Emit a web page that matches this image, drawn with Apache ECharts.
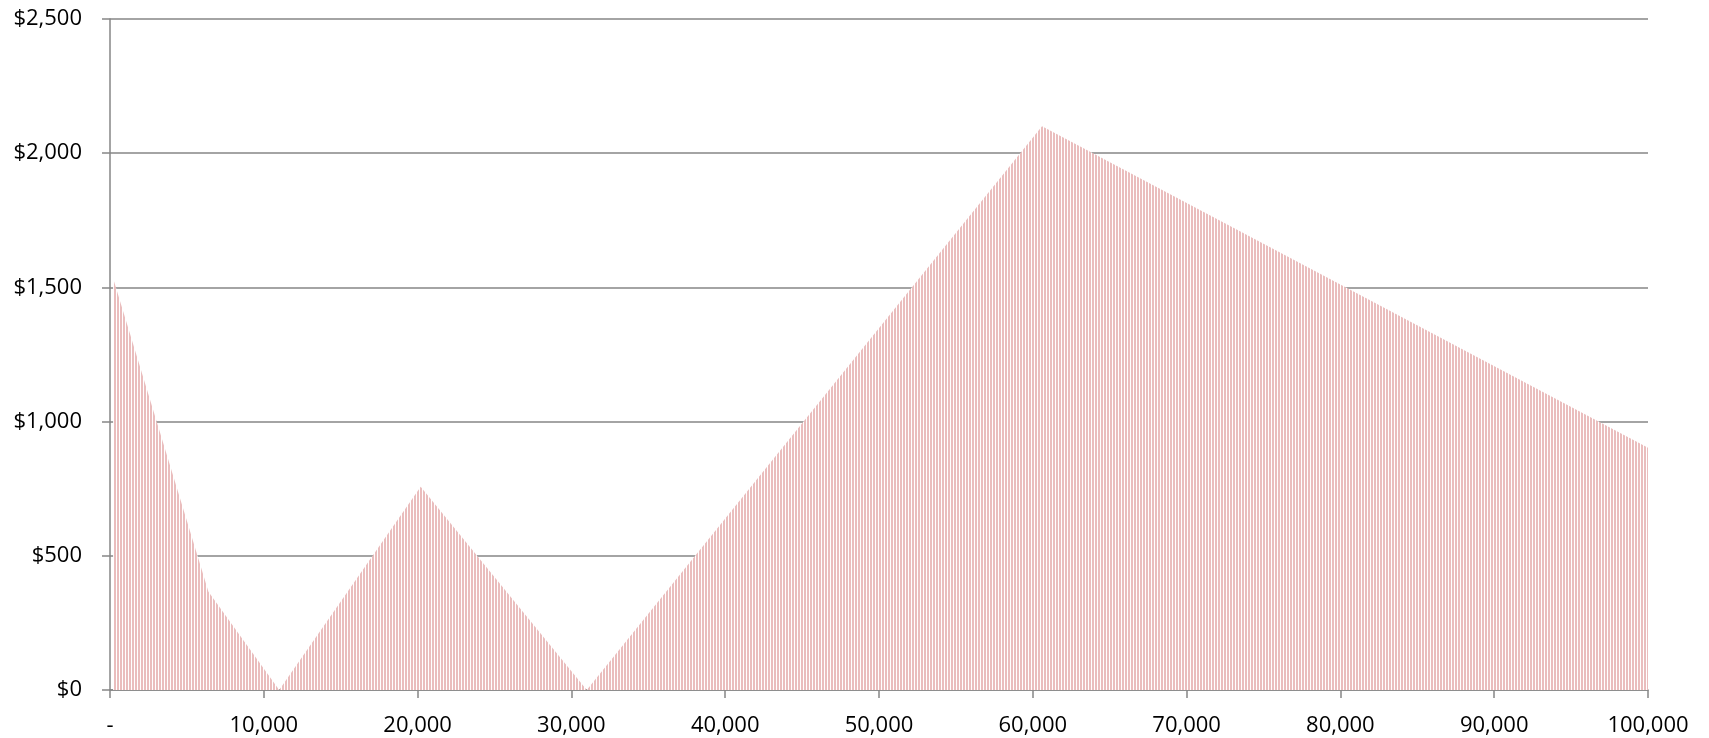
<!DOCTYPE html>
<html>
<head>
<meta charset="utf-8">
<script src="https://cdn.jsdelivr.net/npm/echarts@6/dist/echarts.min.js"></script>
<style>
html,body{margin:0;padding:0;background:#fff;}
#c{width:1709px;height:738px;}
</style>
</head>
<body>
<div id="c"></div>
<script>
// Breakpoints (income, amount in $)
var incomes = [200, 6400, 11000, 20200, 31000, 60600, 100000];
var amounts = [1534, 366, 0, 757, 0, 2100, 903];
var yTicks = [0, 500, 1000, 1500, 2000, 2500];
var xTicks = [0, 10000, 20000, 30000, 40000, 50000, 60000, 70000, 80000, 90000, 100000];

// vertical stripe fill (thin column look)
var pc = document.createElement('canvas');
pc.width = 3; pc.height = 4;
var pctx = pc.getContext('2d');
pctx.fillStyle = '#ffffff';
pctx.fillRect(0, 0, 3, 4);
pctx.fillStyle = '#eabdbd';
pctx.fillRect(0, 0, 2, 4);

var seriesData = incomes.map(function (x, i) { return [x, amounts[i]]; });

function fmtNum(v) {
  return String(v).replace(/\B(?=(\d{3})+(?!\d))/g, ',');
}

var chart = echarts.init(document.getElementById('c'), null, {renderer: 'canvas'});
chart.setOption({
  animation: false,
  backgroundColor: '#ffffff',
  grid: {left: 110, right: 61, top: 19, bottom: 48, containLabel: false},
  xAxis: {
    type: 'value',
    min: xTicks[0],
    max: xTicks[xTicks.length - 1],
    interval: xTicks[1] - xTicks[0],
    axisLine: {show: true, onZero: false, lineStyle: {color: '#868686', width: 1.5}},
    axisTick: {show: true, length: 8, lineStyle: {color: '#868686', width: 1.5}},
    splitLine: {show: false},
    axisLabel: {
      margin: 25,
      color: '#000',
      fontFamily: 'Open Sans',
      fontSize: 22,
      formatter: function (v) { return v === 0 ? '-' : fmtNum(v); }
    }
  },
  yAxis: {
    type: 'value',
    min: yTicks[0],
    max: yTicks[yTicks.length - 1],
    interval: yTicks[1] - yTicks[0],
    axisLine: {show: true, lineStyle: {color: '#868686', width: 1.5}},
    axisTick: {show: true, length: 8, lineStyle: {color: '#868686', width: 1.5}},
    splitLine: {show: true, lineStyle: {color: '#868686', width: 1.5}},
    axisLabel: {
      margin: 28,
      color: '#000',
      fontFamily: 'Open Sans',
      fontSize: 22,
      formatter: function (v) { return '$' + fmtNum(v); }
    }
  },
  series: [{
    type: 'line',
    data: seriesData,
    showSymbol: false,
    symbol: 'none',
    lineStyle: {width: 0, opacity: 0},
    areaStyle: {color: {image: pc, repeat: 'repeat'}, opacity: 1},
    z: 1
  }]
});
</script>
</body>
</html>
